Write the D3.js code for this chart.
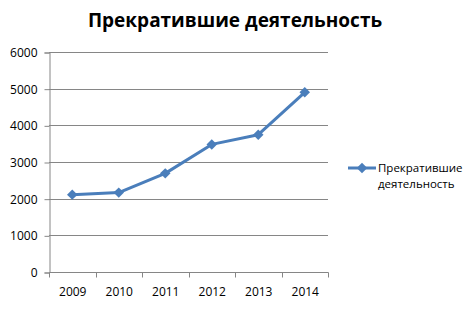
<!DOCTYPE html>
<html>
<head>
<meta charset="utf-8">
<script src="https://cdn.jsdelivr.net/npm/d3@7"></script>
<style>
  body { margin: 0; background: #fff; }
  text { font-family: 'Open Sans', sans-serif; fill: #000; }
</style>
</head>
<body>
<div id="chart"></div>
<script>
var years = ['2009', '2010', '2011', '2012', '2013', '2014'];
var values = [2110, 2165, 2690, 3480, 3745, 4900];
var yTicks = [0, 1000, 2000, 3000, 4000, 5000, 6000];
var title = 'Прекратившие деятельность';
var legendLines = ['Прекратившие', 'деятельность'];

var width = 474, height = 313;
var plotL = 49, plotR = 328, plotT = 52, plotB = 272;
var blue = '#4a7ebb', grey = '#868686';

var svg = d3.select('#chart').append('svg')
  .attr('width', width).attr('height', height);

var x = d3.scaleBand().domain(years).range([plotL, plotR]);
var y = d3.scaleLinear().domain([0, 6000]).range([plotB, plotT]);

// title
svg.append('text')
  .attr('x', 235).attr('y', 27)
  .attr('text-anchor', 'middle')
  .style('font-size', '19px')
  .style('font-weight', 'bold')
  .text(title);

// gridlines
svg.append('g').selectAll('line').data(yTicks.slice(1)).enter().append('line')
  .attr('x1', plotL).attr('x2', plotR)
  .attr('y1', function(d){ return Math.round(y(d)) + 0.5; })
  .attr('y2', function(d){ return Math.round(y(d)) + 0.5; })
  .attr('stroke', grey).attr('stroke-width', 1);

// y axis
var yAxis = svg.append('g')
  .attr('transform', 'translate(' + (plotL + 0.5) + ',0.5)')
  .call(d3.axisLeft(y).tickValues(yTicks).tickSize(5).tickPadding(7).tickFormat(d3.format('d')));
yAxis.selectAll('path, line').attr('stroke', grey);
yAxis.selectAll('text').style('font-size', '12px').style('font-family', "'Open Sans', sans-serif");

// x axis
var xAxis = svg.append('g')
  .attr('transform', 'translate(0.5,' + (plotB + 0.5) + ')')
  .call(d3.axisBottom(x).tickSize(0).tickPadding(15));
xAxis.select('path').attr('stroke', grey).attr('d', 'M' + plotL + ',0H' + plotR);
xAxis.selectAll('text').style('font-size', '12px').style('font-family', "'Open Sans', sans-serif");
var bounds = years.map(function(d){ return x(d); }).concat([plotR]);
xAxis.selectAll('.edge').data(bounds).enter().append('line')
  .attr('class', 'edge')
  .attr('x1', function(d){ return Math.round(d); }).attr('x2', function(d){ return Math.round(d); })
  .attr('y1', 0).attr('y2', 5)
  .attr('stroke', grey);

// series
var pts = years.map(function(d, i){ return [x(d) + x.bandwidth() / 2, y(values[i])]; });
svg.append('path')
  .attr('d', d3.line()(pts))
  .attr('fill', 'none')
  .attr('stroke', blue).attr('stroke-width', 3)
  .attr('stroke-linejoin', 'round');

var diamond = d3.symbol().type(d3.symbolDiamond2).size(70);
svg.append('g').selectAll('path').data(pts).enter().append('path')
  .attr('d', diamond)
  .attr('transform', function(d){ return 'translate(' + d[0] + ',' + d[1] + ')'; })
  .attr('fill', blue);

// legend
var lg = svg.append('g');
lg.append('line')
  .attr('x1', 348).attr('x2', 376).attr('y1', 168).attr('y2', 168)
  .attr('stroke', blue).attr('stroke-width', 3);
lg.append('path')
  .attr('d', diamond)
  .attr('transform', 'translate(362,168)')
  .attr('fill', blue);
lg.selectAll('text').data(legendLines).enter().append('text')
  .attr('x', 378)
  .attr('y', function(d, i){ return 172 + i * 16; })
  .style('font-size', '11.5px')
  .text(function(d){ return d; });
</script>
</body>
</html>
